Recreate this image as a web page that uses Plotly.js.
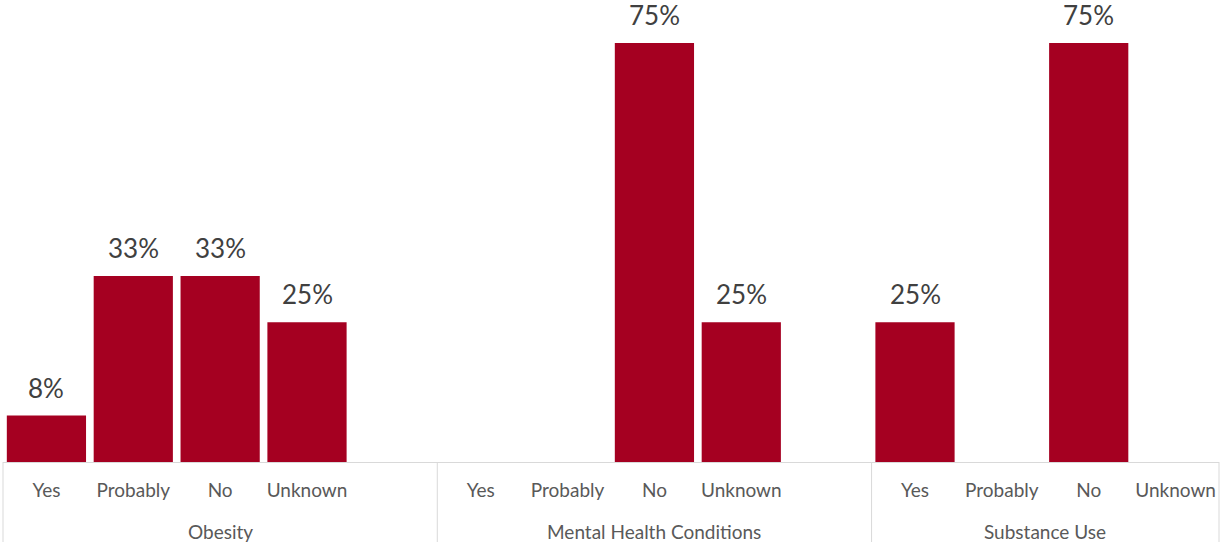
<!DOCTYPE html>
<html>
<head>
<meta charset="utf-8">
<script src="https://cdn.plot.ly/plotly-3.0.1.min.js"></script>
<style>html,body{margin:0;padding:0;background:#fff;}#chart{width:1221px;height:542px;}</style>
</head>
<body>
<div id="chart"></div>
<script>
var groupNames = ['Obesity', 'Mental Health Conditions', 'Substance Use'];
var responses = ['Yes', 'Probably', 'No', 'Unknown'];
var obesity = [8.3, 33.3, 33.3, 25];
var mentalHealth = [0, 0, 75, 25];
var substanceUse = [25, 0, 75, 0];

var seriesByGroup = [obesity, mentalHealth, substanceUse];

// Build category slots: 4 responses per group, plus an empty spacer slot between groups
var xKeys = [], yVals = [], labels = [], tickVals = [], tickText = [];
var groupStart = [], groupCount = [];
seriesByGroup.forEach(function (vals, g) {
  groupStart.push(xKeys.length);
  responses.forEach(function (r, i) {
    var key = groupNames[g] + '|' + r;
    xKeys.push(key);
    yVals.push(vals[i]);
    labels.push(vals[i] > 0 ? Math.round(vals[i]) + '%' : '');
    tickVals.push(key);
    tickText.push(r);
  });
  if (g < seriesByGroup.length - 1) {
    xKeys.push(groupNames[g] + '|');
    yVals.push(null);
    labels.push('');
  }
  groupCount.push(xKeys.length - groupStart[g]);
});

var W = 1221, H = 542;
var margin = {l: 3, r: 2, t: 15, b: 80, pad: 0};
var plotH = H - margin.t - margin.b;
var nSlots = xKeys.length;

var annotations = [];
yVals.forEach(function (v, i) {
  if (labels[i]) {
    annotations.push({
      x: i, y: v, xref: 'x', yref: 'y',
      text: labels[i], showarrow: false,
      yanchor: 'bottom', yshift: 10,
      font: {family: 'Lato, sans-serif', size: 26, color: '#404040'}
    });
  }
});
groupNames.forEach(function (name, g) {
  annotations.push({
    x: groupStart[g] + (groupCount[g] - 1) / 2, y: 0, xref: 'x', yref: 'paper',
    text: name, showarrow: false, yanchor: 'middle', yshift: -69,
    font: {family: 'Lato, sans-serif', size: 19, color: '#595959'}
  });
});

// Group dividers at the slot boundaries of each group
var shapes = [];
var bounds = [0];
groupCount.forEach(function (c, g) { bounds.push(groupStart[g] + c); });
bounds.forEach(function (b) {
  shapes.push({
    type: 'line', xref: 'paper', yref: 'paper',
    x0: b / nSlots, x1: b / nSlots, y0: 0, y1: -margin.b / plotH,
    line: {color: '#d9d9d9', width: 1}
  });
});

var trace = {
  type: 'bar',
  x: xKeys,
  y: yVals,
  marker: {color: '#A50021', line: {width: 0}},
  hoverinfo: 'none'
};

var layout = {
  width: W, height: H,
  margin: margin,
  paper_bgcolor: '#ffffff', plot_bgcolor: '#ffffff',
  bargap: 0.088,
  showlegend: false,
  font: {family: 'Lato, sans-serif', color: '#595959'},
  xaxis: {
    type: 'category',
    tickmode: 'array', tickvals: tickVals, ticktext: tickText,
    tickangle: 0,
    ticklabelstandoff: 11,
    showline: true, linecolor: '#d9d9d9', linewidth: 1,
    ticks: '', showgrid: false, zeroline: false,
    tickfont: {family: 'Lato, sans-serif', size: 19, color: '#595959'}
  },
  yaxis: {visible: false, range: [0, 80], showgrid: false, zeroline: false},
  annotations: annotations,
  shapes: shapes
};

Plotly.newPlot('chart', [trace], layout, {displayModeBar: false, staticPlot: true});
</script>
</body>
</html>
